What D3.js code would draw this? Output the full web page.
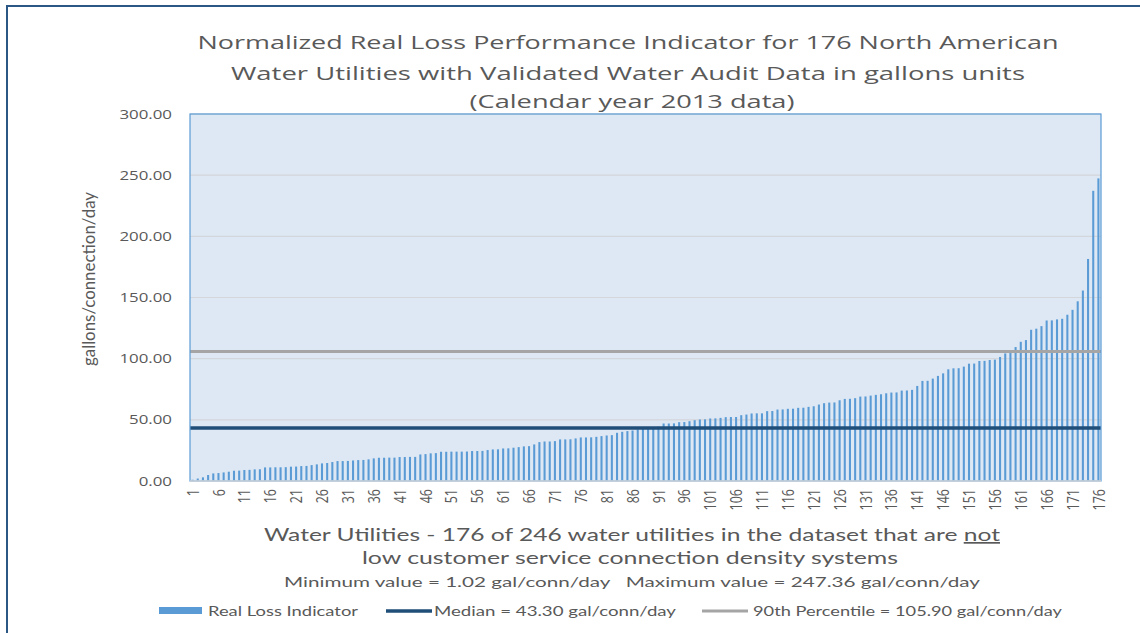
<!DOCTYPE html>
<html lang="en">
<head>
<meta charset="UTF-8" />
<title>Normalized Real Loss Performance Indicator</title>
<script src="https://d3js.org/d3.v7.min.js"></script>
<style>
  body { margin: 0; background: #fff; }
  svg { display: block; }
  text { fill: #595959; }
</style>
</head>
<body>
<svg width="1140" height="633"></svg>
<script>
// utility rank 1..176 (sorted by indicator value)
const utilities = d3.range(1, 177);
const realLoss = [
  1.02, 2.0, 3.0, 4.9, 6.2, 6.5, 7.0, 7.6, 8.4, 8.5,
  9.0, 9.1, 9.5, 9.6, 11.1, 11.1, 11.2, 11.2, 11.3, 11.7,
  11.8, 12.2, 12.3, 13.0, 13.6, 14.4, 14.7, 15.5, 16.3, 16.3,
  16.4, 16.8, 17.1, 17.2, 17.7, 18.5, 19.0, 19.0, 19.1, 19.1,
  19.6, 19.6, 19.7, 19.7, 21.7, 22.0, 22.6, 22.8, 23.9, 23.9,
  24.0, 24.0, 24.0, 24.1, 24.5, 24.5, 24.6, 25.3, 25.8, 25.9,
  26.6, 26.7, 27.2, 27.7, 28.3, 28.5, 29.9, 31.8, 32.3, 32.3,
  32.6, 34.0, 34.0, 34.1, 34.8, 35.6, 35.6, 35.7, 36.1, 36.7,
  37.2, 37.5, 39.4, 40.2, 40.8, 41.3, 42.2, 43.1, 43.5, 44.1,
  44.4, 47.0, 47.0, 47.1, 48.1, 48.2, 48.9, 49.7, 50.3, 50.4,
  51.1, 51.2, 51.6, 52.2, 52.3, 52.3, 53.8, 54.3, 55.2, 55.3,
  55.3, 57.1, 57.2, 58.4, 58.5, 59.0, 59.1, 59.8, 59.9, 60.6,
  61.1, 62.5, 63.6, 64.1, 64.2, 66.0, 67.1, 67.2, 67.7, 69.0,
  69.1, 69.8, 70.4, 70.9, 71.7, 72.3, 72.4, 73.9, 74.0, 74.5,
  77.7, 81.8, 81.9, 83.7, 85.9, 88.0, 91.3, 92.1, 92.2, 93.5,
  95.9, 96.0, 98.1, 98.2, 98.9, 99.2, 101.4, 104.3, 106.5, 109.5,
  113.8, 115.2, 123.6, 124.5, 126.6, 131.2, 131.3, 132.1, 132.6, 135.9,
  139.9, 146.9, 155.7, 181.5, 237.2, 247.36
];
const yTicks = [0, 50, 100, 150, 200, 250, 300];
const xTickLabels = d3.range(1, 177, 5);
const medianValue = 43.30;
const p90Value = 105.90;

const titleLines = [
  "Normalized Real Loss Performance Indicator for 176 North American",
  "Water Utilities with Validated Water Audit Data in gallons units",
  "(Calendar year 2013 data)"
];
const xTitleLine1 = "Water Utilities - 176 of 246 water utilities in the dataset that are ";
const xTitleUnderlined = "not";
const xTitleLine2 = "low customer service connection density systems";
const xTitleLine3 = "Minimum value = 1.02 gal/conn/day   Maximum value = 247.36 gal/conn/day";
const legendLabels = [
  "Real Loss Indicator",
  "Median = 43.30 gal/conn/day",
  "90th Percentile = 105.90 gal/conn/day"
];

const K = 1.35; // the source picture is stretched sideways
const plot = { left: 190, right: 1101, top: 114, bottom: 481 };

const svg = d3.select("svg");

// outer frame (only left/top edges visible)
svg.append("path")
  .attr("d", "M7,633V6H1140")
  .attr("fill", "none")
  .attr("stroke", "#2a5783")
  .attr("stroke-width", 2);

const x = d3.scaleBand()
  .domain(utilities)
  .range([plot.left, plot.right])
  .paddingInner(0.6)
  .paddingOuter(0.3);

const y = d3.scaleLinear()
  .domain([0, 300])
  .range([plot.bottom, plot.top]);

// plot area
svg.append("rect")
  .attr("x", plot.left).attr("y", plot.top)
  .attr("width", plot.right - plot.left)
  .attr("height", plot.bottom - plot.top)
  .attr("fill", "#dde8f4");

svg.append("g")
  .selectAll("line")
  .data(yTicks.filter(d => d > 0))
  .join("line")
  .attr("x1", plot.left).attr("x2", plot.right)
  .attr("y1", d => y(d)).attr("y2", d => y(d))
  .attr("stroke", "#d3d6da")
  .attr("stroke-width", 1.2);

svg.append("g")
  .selectAll("rect")
  .data(realLoss)
  .join("rect")
  .attr("x", (d, i) => x(utilities[i]))
  .attr("width", x.bandwidth())
  .attr("y", d => y(d))
  .attr("height", d => y(0) - y(d))
  .attr("fill", "#5b9bd5");

// reference lines
svg.append("line")
  .attr("x1", plot.left).attr("x2", plot.right)
  .attr("y1", y(medianValue)).attr("y2", y(medianValue))
  .attr("stroke", "#1f4e79")
  .attr("stroke-width", 3.5);

svg.append("line")
  .attr("x1", plot.left).attr("x2", plot.right)
  .attr("y1", y(p90Value)).attr("y2", y(p90Value))
  .attr("stroke", "#a5a5a5")
  .attr("stroke-width", 3);

svg.append("rect")
  .attr("x", plot.left).attr("y", plot.top)
  .attr("width", plot.right - plot.left)
  .attr("height", plot.bottom - plot.top)
  .attr("fill", "none")
  .attr("stroke", "#5b9bd5")
  .attr("stroke-width", 1.2);

svg.append("line")
  .attr("x1", plot.left).attr("x2", plot.right)
  .attr("y1", plot.bottom).attr("y2", plot.bottom)
  .attr("stroke", "#d0d4d8")
  .attr("stroke-width", 1.5);

// axes
const yAxis = svg.append("g")
  .attr("transform", `translate(${plot.left},0)`)
  .call(d3.axisLeft(y).tickValues(yTicks).tickFormat(d3.format(".2f")).tickSize(0).tickPadding(18 / K));
yAxis.select(".domain").remove();
yAxis.selectAll("text")
  .attr("transform", `scale(${K},1)`)
  .style("font-family", "'Open Sans', sans-serif")
  .style("font-size", "12.5px")
  .style("fill", "#595959");

const xAxis = svg.append("g")
  .attr("transform", `translate(0,${plot.bottom})`)
  .call(d3.axisBottom(x).tickValues(xTickLabels).tickSize(0));
xAxis.select(".domain").remove();
xAxis.selectAll("text")
  .attr("x", 0).attr("y", 0).attr("dy", "0.36em")
  .attr("transform", `translate(0,8) scale(${K},1) rotate(-90)`)
  .style("text-anchor", "end")
  .style("font-family", "'Open Sans', sans-serif")
  .style("font-size", "12.5px")
  .style("fill", "#595959");

// text helper: fit to a measured width
function fitText(sel, width) {
  sel.attr("textLength", width).attr("lengthAdjust", "spacingAndGlyphs");
  return sel;
}

// title
const titleY = [49, 80, 108];
const titleW = [861, 794, 325];
titleLines.forEach((t, i) => {
  fitText(svg.append("text")
    .attr("x", i === 2 ? 632 : 628)
    .attr("y", titleY[i])
    .attr("text-anchor", "middle")
    .style("font-family", "'Open Sans', sans-serif")
    .style("font-size", "19px")
    .text(t), titleW[i]);
});

// y axis title
svg.append("text")
  .attr("transform", `translate(95,279) scale(${K},1) rotate(-90)`)
  .attr("text-anchor", "middle")
  .attr("textLength", 174)
  .attr("lengthAdjust", "spacingAndGlyphs")
  .style("font-family", "Lato, sans-serif")
  .style("font-size", "13px")
  .text("gallons/connection/day");

// x axis title
const xt = svg.append("text")
  .attr("x", 632).attr("y", 541)
  .attr("text-anchor", "middle")
  .style("font-family", "Lato, sans-serif")
  .style("font-size", "17px");
xt.append("tspan").text(xTitleLine1);
xt.append("tspan").style("text-decoration", "underline").text(xTitleUnderlined);
fitText(xt, 736);

fitText(svg.append("text")
  .attr("x", 630).attr("y", 564)
  .attr("text-anchor", "middle")
  .style("font-family", "Lato, sans-serif")
  .style("font-size", "17px")
  .text(xTitleLine2), 536);

fitText(svg.append("text")
  .attr("x", 632).attr("y", 587)
  .attr("text-anchor", "middle")
  .style("font-family", "Lato, sans-serif")
  .style("font-size", "14px")
  .style("white-space", "pre")
  .text(xTitleLine3), 696);

// legend
const legend = svg.append("g");
legend.append("rect")
  .attr("x", 159).attr("y", 607).attr("width", 43).attr("height", 7)
  .attr("fill", "#5b9bd5");
legend.append("line")
  .attr("x1", 386).attr("x2", 432).attr("y1", 611).attr("y2", 611)
  .attr("stroke", "#1f4e79").attr("stroke-width", 3.5);
legend.append("line")
  .attr("x1", 702).attr("x2", 748).attr("y1", 611).attr("y2", 611)
  .attr("stroke", "#a5a5a5").attr("stroke-width", 3);

const legendX = [208, 434, 753];
const legendW = [150, 242, 309];
legendLabels.forEach((t, i) => {
  fitText(legend.append("text")
    .attr("x", legendX[i]).attr("y", 616)
    .style("font-family", "Lato, sans-serif")
    .style("font-size", "13px")
    .text(t), legendW[i]);
});
</script>
</body>
</html>
